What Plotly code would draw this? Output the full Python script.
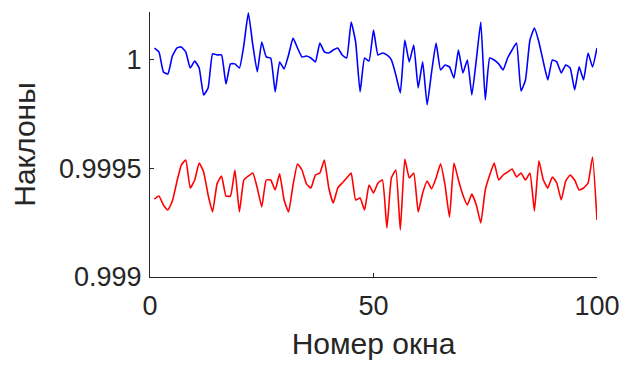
import plotly.graph_objects as go

window = list(range(1, 101))

slopes_blue = [
    1.000055, 1.000037, 0.999945, 0.999935, 1.000018, 1.000055, 1.000060, 1.000037, 0.999963, 0.999995,
    0.999963, 0.999839, 0.999871, 1.000028, 1.000023, 1.000023, 0.999889, 0.999982, 0.999982, 0.999963,
    1.000069, 1.000217, 1.000069, 0.999945, 1.000083, 1.000014, 1.000009, 0.999853, 0.999991, 0.999959,
    1.000023, 1.000101, 1.000055, 1.000014, 1.000018, 1.000009, 0.999991, 1.000078, 1.000037, 1.000032,
    1.000046, 1.000055, 1.000023, 1.000009, 1.000175, 1.000083, 0.999853, 1.000009, 0.999995, 1.000138,
    1.000023, 1.000032, 1.000023, 1.000000, 0.999931, 0.999848, 1.000092, 0.999991, 1.000069, 0.999871,
    0.999991, 0.999793, 0.999945, 1.000078, 0.999954, 0.999977, 0.999968, 0.999917, 1.000046, 0.999940,
    1.000000, 0.999839, 1.000000, 1.000175, 0.999816, 1.000009, 1.000000, 0.999982, 0.999954, 1.000009,
    1.000046, 1.000078, 0.999857, 0.999908, 1.000092, 1.000147, 1.000083, 0.999991, 0.999908, 1.000000,
    0.999991, 0.999940, 0.999977, 0.999963, 0.999862, 0.999968, 0.999908, 1.000032, 0.999968, 1.000055,
]

slopes_red = [
    0.999359, 0.999373, 0.999332, 0.999309, 0.999350, 0.999438, 0.999516, 0.999539, 0.999410, 0.999447,
    0.999525, 0.999484, 0.999378, 0.999300, 0.999429, 0.999465, 0.999373, 0.999373, 0.999493, 0.999300,
    0.999447, 0.999465, 0.999479, 0.999410, 0.999323, 0.999447, 0.999447, 0.999401, 0.999475, 0.999355,
    0.999300, 0.999424, 0.999521, 0.999493, 0.999429, 0.999410, 0.999470, 0.999479, 0.999539, 0.999410,
    0.999341, 0.999410, 0.999433, 0.999456, 0.999479, 0.999355, 0.999364, 0.999309, 0.999424, 0.999387,
    0.999433, 0.999447, 0.999226, 0.999456, 0.999493, 0.999217, 0.999544, 0.999456, 0.999479, 0.999300,
    0.999387, 0.999442, 0.999406, 0.999456, 0.999521, 0.999424, 0.999276, 0.999525, 0.999447, 0.999378,
    0.999332, 0.999382, 0.999332, 0.999249, 0.999401, 0.999470, 0.999525, 0.999447, 0.999470, 0.999484,
    0.999498, 0.999461, 0.999479, 0.999447, 0.999479, 0.999304, 0.999535, 0.999447, 0.999410, 0.999461,
    0.999433, 0.999355, 0.999442, 0.999470, 0.999447, 0.999401, 0.999410, 0.999433, 0.999553, 0.999263,
]

x_ticks = [0, 50, 100]
y_ticks = [0.999, 0.9995, 1.0]
y_tick_text = ["0.999", "0.9995", "1"]

AX = "#262626"
FONT = "Liberation Sans, Arial, sans-serif"

fig = go.Figure()
fig.add_trace(go.Scatter(x=window, y=slopes_blue, mode="lines",
                         line=dict(color="#0000ff", width=1.6, shape="spline", smoothing=0.4),
                         showlegend=False))
fig.add_trace(go.Scatter(x=window, y=slopes_red, mode="lines",
                         line=dict(color="#ff0000", width=1.6, shape="spline", smoothing=0.4),
                         showlegend=False))

fig.update_layout(
    width=638, height=365,
    margin=dict(l=150, r=41, t=12, b=88),
    paper_bgcolor="white", plot_bgcolor="white",
    font=dict(family=FONT, color=AX),
    xaxis=dict(range=[0, 100], tickvals=x_ticks, showgrid=False, zeroline=False,
               showline=True, linecolor=AX, linewidth=1,
               ticks="inside", ticklen=4, tickcolor=AX, ticklabelstandoff=5,
               tickfont=dict(size=27, color=AX, family=FONT),
               title=dict(text="Номер окна", font=dict(size=30, color=AX, family=FONT), standoff=12)),
    yaxis=dict(range=[0.999, 1.000221], tickvals=y_ticks, ticktext=y_tick_text,
               showgrid=False, zeroline=False,
               showline=True, linecolor=AX, linewidth=1,
               ticks="inside", ticklen=4, tickcolor=AX, ticklabelstandoff=2,
               tickfont=dict(size=27, color=AX, family=FONT),
               title=dict(text="Наклоны", font=dict(size=30, color=AX, family=FONT), standoff=14)),
)

fig.write_html("out.html")
